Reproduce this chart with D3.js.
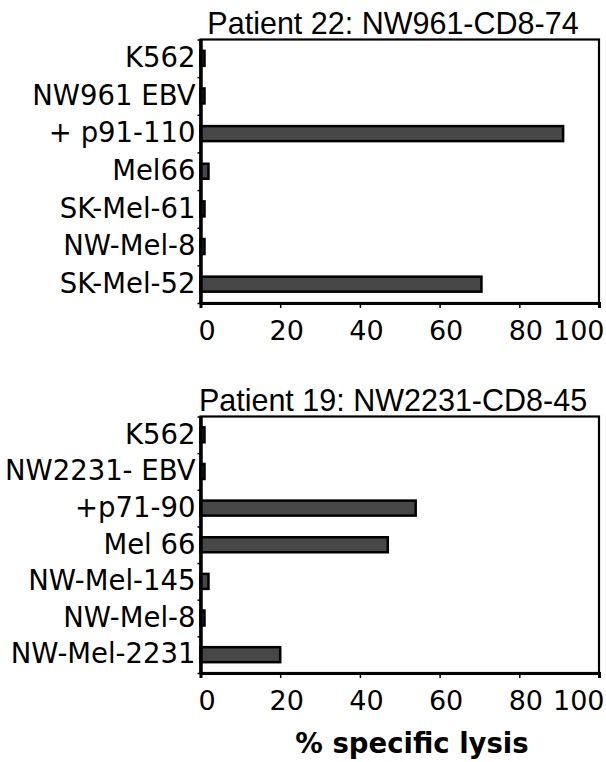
<!DOCTYPE html>
<html>
<head>
<meta charset="utf-8">
<script src="https://cdn.jsdelivr.net/npm/d3@7"></script>
<style>
  body { margin: 0; background: white; }
  svg { display: block; }
</style>
</head>
<body>
<div id="chart"></div>
<script>
// data (% specific lysis)
var topTitle = "Patient 22: NW961-CD8-74";
var topCategories = ["K562", "NW961 EBV", "+ p91-110", "Mel66", "SK-Mel-61", "NW-Mel-8", "SK-Mel-52"];
var topValues = [1, 1, 91, 2, 1, 1, 70.5];

var bottomTitle = "Patient 19: NW2231-CD8-45";
var bottomCategories = ["K562", "NW2231- EBV", "+p71-90", "Mel 66", "NW-Mel-145", "NW-Mel-8", "NW-Mel-2231"];
var bottomValues = [1, 1, 54, 47, 2, 1, 20];

var xTicks = [0, 20, 40, 60, 80, 100];
var xLabel = "% specific lysis";

var width = 606;
var height = 762;

var svg = d3.select("#chart")
    .append("svg")
    .attr("width", width)
    .attr("height", height);

function drawPanel(title, categories, values, box) {
    var g = svg.append("g");

    var x = d3.scaleLinear()
        .domain([0, 100])
        .range([box.left, box.right]);

    var y = d3.scaleBand()
        .domain(categories)
        .range([box.top, box.bottom]);

    // boundaries between categories, for the little ticks
    var yEdge = d3.scaleLinear()
        .domain([0, categories.length])
        .range([box.top, box.bottom]);

    // frame of the plot area
    g.append("rect")
        .attr("x", box.left)
        .attr("y", box.top)
        .attr("width", box.right - box.left)
        .attr("height", box.bottom - box.top)
        .attr("fill", "none")
        .attr("stroke", "black")
        .attr("stroke-width", 2.2);

    // bars
    var barH = 15;
    g.selectAll(".bar")
        .data(values)
        .enter()
        .append("rect")
        .attr("class", "bar")
        .attr("x", x(0))
        .attr("y", (d, i) => y(categories[i]) + y.bandwidth() / 2 - barH / 2)
        .attr("width", d => x(d) - x(0))
        .attr("height", barH)
        .attr("fill", "#474747")
        .attr("stroke", "black")
        .attr("stroke-width", 2.5);

    // left axis ticks at the category edges
    g.append("g")
        .attr("transform", `translate(${box.left}, 0)`)
        .call(d3.axisLeft(yEdge).tickValues(d3.range(categories.length + 1)).tickFormat("").tickSize(3))
        .call(a => a.select(".domain").remove())
        .selectAll("line")
        .attr("stroke-width", 1.5);

    // left axis labels
    g.append("g")
        .attr("transform", `translate(${box.left}, 0)`)
        .call(d3.axisLeft(y).tickSize(0).tickPadding(5))
        .call(a => a.select(".domain").attr("stroke-width", 3.5))
        .selectAll("text")
        .style("font-family", "'DejaVu Sans', Verdana, sans-serif")
        .style("font-size", "27.5px")
        .attr("fill", "black");

    // bottom axis
    var xAxis = g.append("g")
        .attr("transform", `translate(0, ${box.bottom})`)
        .call(d3.axisBottom(x).tickValues(xTicks).tickSize(5).tickPadding(13));
    xAxis.select(".domain").attr("stroke-width", 3);
    xAxis.selectAll("line").attr("stroke-width", 1.5);
    xAxis.selectAll("text")
        .style("font-family", "'DejaVu Sans', Verdana, sans-serif")
        .style("font-size", "27px")
        .attr("fill", "black")
        .attr("dx", d => d === 100 ? 5 : 6)
        .attr("text-anchor", d => d === 100 ? "end" : "middle");

    // title
    g.append("text")
        .attr("x", 393)
        .attr("y", box.top - 6)
        .attr("text-anchor", "middle")
        .style("font-family", "'Liberation Sans', Arial, sans-serif")
        .style("font-size", "30.5px")
        .text(title);
}

drawPanel(topTitle, topCategories, topValues, { left: 200.5, right: 599, top: 39.5, bottom: 303 });
drawPanel(bottomTitle, bottomCategories, bottomValues, { left: 200.5, right: 599, top: 416.5, bottom: 673 });

svg.append("text")
    .attr("x", 412)
    .attr("y", 753)
    .attr("text-anchor", "middle")
    .style("font-family", "'DejaVu Sans', Verdana, sans-serif")
    .style("font-weight", "bold")
    .style("font-size", "27.5px")
    .text(xLabel);
</script>
</body>
</html>
